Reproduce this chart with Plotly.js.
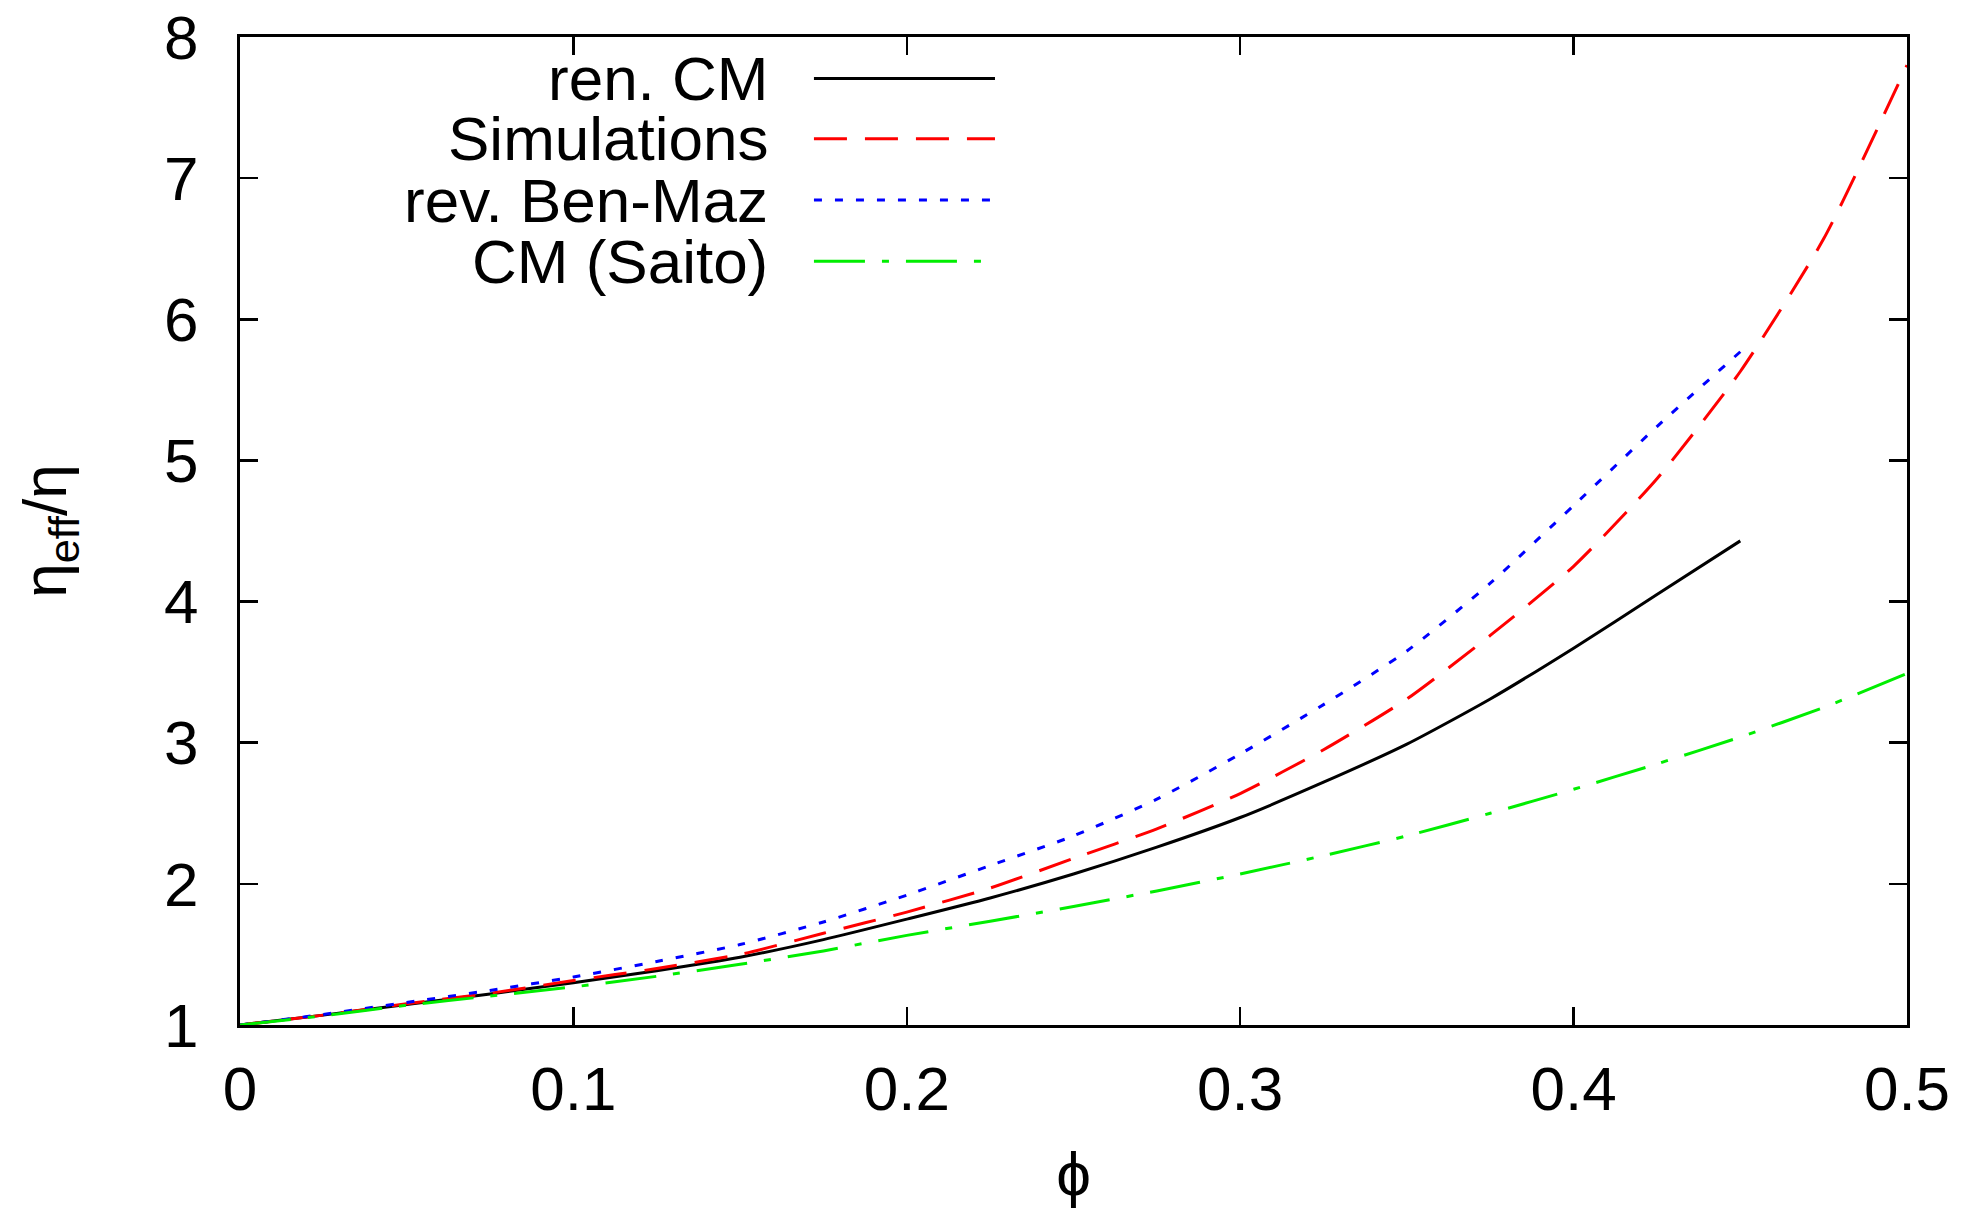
<!DOCTYPE html>
<html>
<head>
<meta charset="utf-8">
<script src="https://cdn.plot.ly/plotly-3.0.1.min.js"></script>
<style>
  html, body { margin: 0; padding: 0; background: #ffffff; }
  #chart { width: 1984px; height: 1208px; }
</style>
</head>
<body>
<div id="chart"></div>
<script>
// ---- data ----
const phiFull  = [0, 0.025, 0.05, 0.075, 0.1, 0.125, 0.15, 0.175, 0.2, 0.225, 0.25, 0.275, 0.3, 0.325, 0.35, 0.375, 0.4, 0.425, 0.45, 0.475, 0.5];
const phiShort = [0, 0.025, 0.05, 0.075, 0.1, 0.125, 0.15, 0.175, 0.2, 0.225, 0.25, 0.275, 0.3, 0.325, 0.35, 0.375, 0.4, 0.425, 0.45];

const renCM       = [1, 1.07, 1.145, 1.22, 1.30, 1.385, 1.48, 1.605, 1.75, 1.90, 2.07, 2.26, 2.47, 2.72, 2.99, 3.31, 3.67, 4.05, 4.43];
const simulations = [1, 1.07, 1.15, 1.225, 1.315, 1.40, 1.50, 1.65, 1.80, 1.97, 2.18, 2.39, 2.64, 2.95, 3.31, 3.76, 4.25, 4.87, 5.63, 6.57, 7.80];
const revBenMaz   = [1, 1.075, 1.16, 1.245, 1.34, 1.45, 1.57, 1.73, 1.92, 2.13, 2.34, 2.60, 2.92, 3.27, 3.65, 4.13, 4.68, 5.24, 5.77];
const cmSaito     = [1, 1.065, 1.14, 1.205, 1.27, 1.345, 1.43, 1.525, 1.635, 1.735, 1.84, 1.95, 2.07, 2.20, 2.34, 2.50, 2.67, 2.85, 3.04, 3.25, 3.49];

const seriesNames = ["ren. CM", "Simulations", "rev. Ben-Maz", "CM (Saito)"];
const xTickVals  = [0, 0.1, 0.2, 0.3, 0.4, 0.5];
const xTickText  = ["0", "0.1", "0.2", "0.3", "0.4", "0.5"];
const yTickVals  = [1, 2, 3, 4, 5, 6, 7, 8];
const yTickText  = ["1", "2", "3", "4", "5", "6", "7", "8"];

// ---- styles ----
const colors = ["#000000", "#ff0000", "#0000ff", "#00ee00"];
const dashes = ["solid", "33px,18px", "8px,13px", "51px,17px,7px,17px"];
const FONT = "Liberation Sans, Arial, Helvetica, sans-serif";
const FS = 62;
const LFS = 62;

const xs = [phiShort, phiFull, phiShort, phiFull];
const ys = [renCM, simulations, revBenMaz, cmSaito];

const traces = ys.map((y, i) => ({
  x: xs[i], y: y, type: "scatter", mode: "lines", name: seriesNames[i],
  line: { color: colors[i], width: 3, dash: dashes[i], shape: "spline", smoothing: 0.6 },
  showlegend: false, hoverinfo: "skip"
}));

// hand-built legend (text right-aligned, sample line to the right, as in gnuplot)
const legendY = [0.958, 0.897, 0.835, 0.773];
const annotations = seriesNames.map((n, i) => ({
  text: n, xref: "paper", yref: "paper", x: 0.318, y: legendY[i],
  xanchor: "right", yanchor: "middle", showarrow: false,
  font: { family: FONT, size: LFS, color: "#000" }
}));
const shapes = seriesNames.map((n, i) => ({
  type: "line", xref: "paper", yref: "paper",
  x0: 0.3443, x1: 0.4529, y0: legendY[i], y1: legendY[i],
  line: { color: colors[i], width: 3, dash: dashes[i] }
}));

const axisCommon = {
  showline: true, linecolor: "#000", linewidth: 3, mirror: "ticks",
  ticks: "inside", ticklen: 18, tickwidth: 2.5, tickcolor: "#000",
  showgrid: false, zeroline: false, automargin: false,
  ticklabeloverflow: "allow",
  tickfont: { family: FONT, size: FS, color: "#000" }
};

const layout = {
  width: 1984, height: 1208,
  paper_bgcolor: "#ffffff", plot_bgcolor: "#ffffff",
  margin: { l: 240, r: 77, t: 37, b: 183, pad: 0 },
  xaxis: Object.assign({}, axisCommon, {
    range: [0, 0.5], tickmode: "array", tickvals: xTickVals, ticktext: xTickText,
    ticklabelstandoff: 8,
    title: { text: "ϕ", font: { family: FONT, size: FS, color: "#000" }, standoff: 34 }
  }),
  yaxis: Object.assign({}, axisCommon, {
    range: [1, 8], tickmode: "array", tickvals: yTickVals, ticktext: yTickText,
    ticklabelstandoff: 26,
    title: { text: "η<sub>eff</sub>/η", font: { family: FONT, size: FS, color: "#000" }, standoff: 78 }
  }),
  annotations: annotations,
  shapes: shapes,
  showlegend: false
};

Plotly.newPlot("chart", traces, layout, { staticPlot: true, displayModeBar: false });
</script>
</body>
</html>
